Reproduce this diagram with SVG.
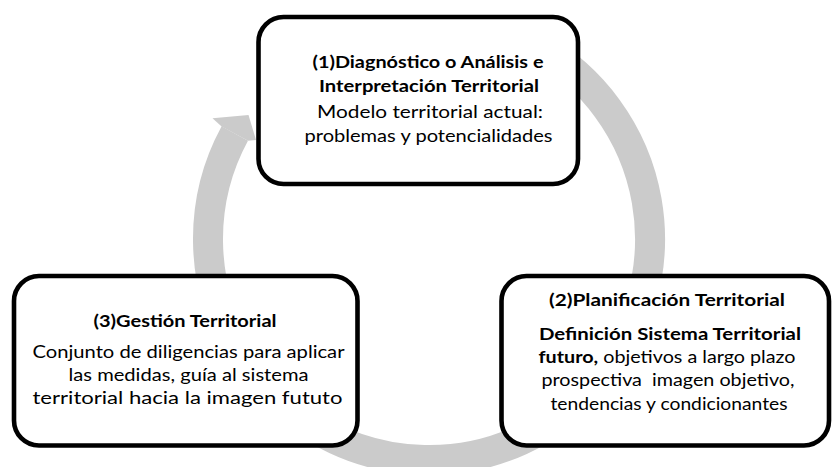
<svg xmlns="http://www.w3.org/2000/svg" width="832" height="467" viewBox="0 0 832 467">
<style>
.ring{fill:none;stroke:#cbcbcb;stroke-width:30;stroke-linecap:butt}
.head{fill:#cbcbcb}
.box{fill:#ffffff;stroke:#000000;stroke-width:4.6}
text{font-family:Lato,"Open Sans","Liberation Sans",sans-serif;font-size:17px;fill:#000000;text-anchor:middle}
.b{font-weight:bold}
</style>
<g id="connectors">
<path class="ring" d="M 237.6 349.5 A 221 221 0 0 1 234.8 133.5"/>
<polygon class="head" points="221.6,126.4 212.5,118.3 248.5,115 256,140 248,140.7"/>
<path class="ring" d="M 539.5 47.6 A 221 221 0 0 1 598.3 381.1"/>
<path class="ring" d="M 539.5 430.4 A 221 221 0 0 1 302.2 420"/>
</g>
<g id="node1">
<rect class="box" x="258.5" y="17" width="319.5" height="167" rx="25"/>
<text class="b" x="428" y="68" textLength="231" lengthAdjust="spacingAndGlyphs">(1)Diagnóstico o Análisis e</text>
<text class="b" x="429" y="91.5" textLength="220" lengthAdjust="spacingAndGlyphs">Interpretación Territorial</text>
<text x="430" y="117.5" textLength="226" lengthAdjust="spacingAndGlyphs">Modelo territorial actual:</text>
<text x="428.5" y="141.5" textLength="248" lengthAdjust="spacingAndGlyphs">problemas y potencialidades</text>
</g>
<g id="node2">
<rect class="box" x="501.5" y="276" width="327.5" height="169.5" rx="25"/>
<text class="b" x="667" y="306" textLength="236" lengthAdjust="spacingAndGlyphs">(2)Planificación Territorial</text>
<text class="b" x="670" y="340" textLength="262" lengthAdjust="spacingAndGlyphs">Definición Sistema Territorial</text>
<text x="667" y="363" textLength="257" lengthAdjust="spacingAndGlyphs"><tspan class="b">futuro,</tspan> objetivos a largo plazo</text>
<text x="668" y="386" textLength="253" lengthAdjust="spacingAndGlyphs" style="white-space:pre">prospectiva  imagen objetivo,</text>
<text x="669" y="409.5" textLength="237" lengthAdjust="spacingAndGlyphs">tendencias y condicionantes</text>
</g>
<g id="node3">
<rect class="box" x="14" y="276" width="343.5" height="169.5" rx="25"/>
<text class="b" x="185" y="327" textLength="183" lengthAdjust="spacingAndGlyphs">(3)Gestión Territorial</text>
<text x="188.5" y="358" textLength="312" lengthAdjust="spacingAndGlyphs">Conjunto de diligencias para aplicar</text>
<text x="188.5" y="381" textLength="240" lengthAdjust="spacingAndGlyphs">las medidas, guía al sistema</text>
<text x="187.5" y="404" textLength="310" lengthAdjust="spacingAndGlyphs">territorial hacia la imagen fututo</text>
</g>
</svg>
